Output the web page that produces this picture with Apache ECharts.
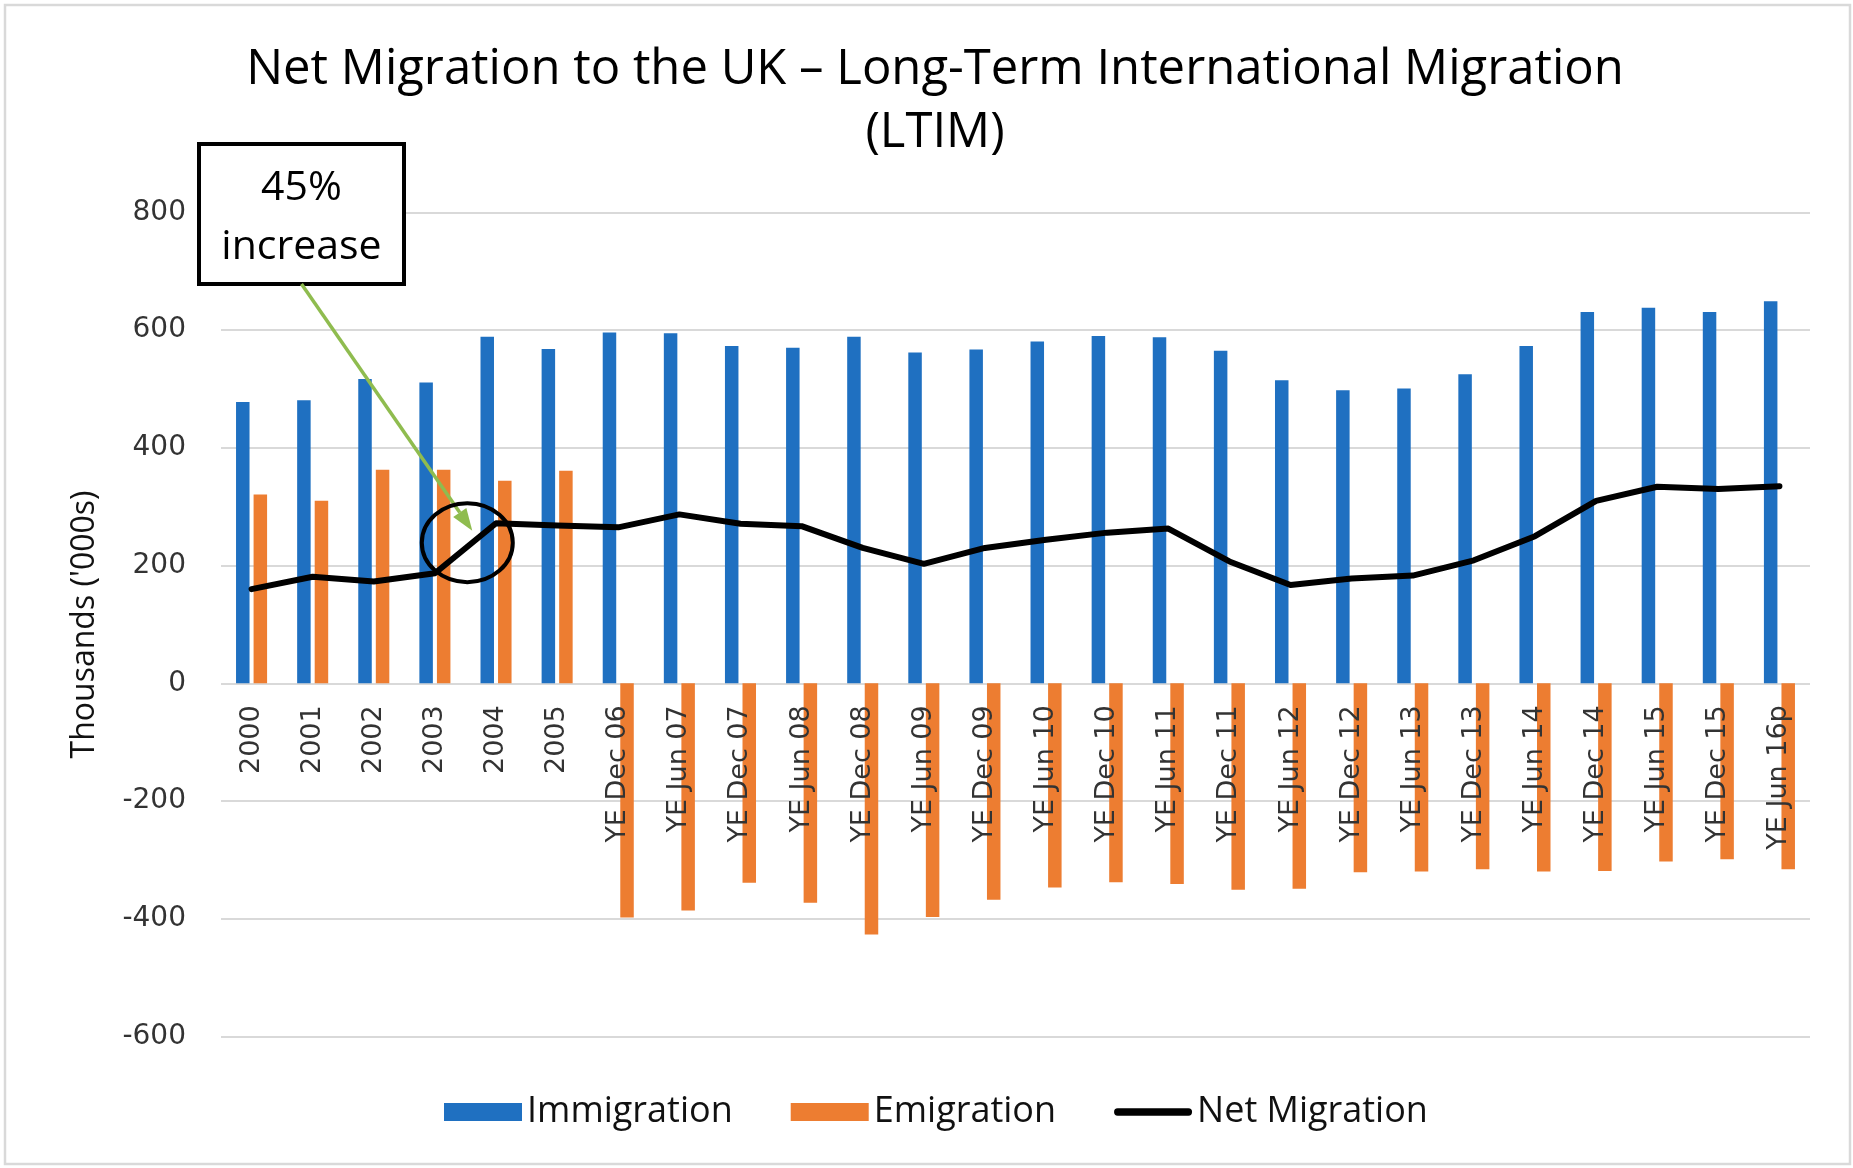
<!DOCTYPE html>
<html>
<head>
<meta charset="utf-8">
<script src="https://cdn.jsdelivr.net/npm/echarts@6/dist/echarts.min.js"></script>
<style>
  html, body { margin: 0; padding: 0; background: #ffffff; }
  #chart { width: 1853px; height: 1168px; }
</style>
</head>
<body>
<div id="chart"></div>
<script>
// Period labels (calendar years, then rolling year-ending periods)
const categories = [
  '2000', '2001', '2002', '2003', '2004', '2005',
  'YE Dec 06', 'YE Jun 07', 'YE Dec 07', 'YE Jun 08', 'YE Dec 08',
  'YE Jun 09', 'YE Dec 09', 'YE Jun 10', 'YE Dec 10', 'YE Jun 11',
  'YE Dec 11', 'YE Jun 12', 'YE Dec 12', 'YE Jun 13', 'YE Dec 13',
  'YE Jun 14', 'YE Dec 14', 'YE Jun 15', 'YE Dec 15', 'YE Jun 16p'
];

// Thousands of people
const immigration = [
  478, 481, 517, 511, 589, 568,
  596, 595, 573, 570, 589,
  562, 567, 581, 590, 588,
  565, 515, 498, 501, 525,
  573, 631, 638, 631, 649
];
const emigration = [
  321, 310, 363, 363, 344, 361,
  -398, -386, -339, -373, -427,
  -397, -368, -347, -338, -341,
  -351, -349, -321, -320, -316,
  -320, -319, -303, -299, -316
];
const netMigration = [
  160, 181, 173, 187, 272, 268,
  265, 287, 271, 267, 230,
  203, 230, 244, 256, 263,
  207, 167, 178, 183, 209,
  250, 310, 334, 330, 335
];

// Value axis range and tick step
const yMin = -600;
const yMax = 800;
const yStep = 200;

// Callout: the jump between 2003 and 2004
const calloutLines = ['45%', 'increase'];
const calloutFrom = 3;       // index of 2003
const calloutTo = 4;         // index of 2004
const calloutValue = 239;    // vertical centre of the ring, in thousands

const BLUE = '#1f70c1';
const ORANGE = '#ed7d31';
const GREEN = '#8fbc4f';
const GRID_GREY = '#d9d9d9';
const LABEL_GREY = '#333333';

const chart = echarts.init(document.getElementById('chart'), null, { renderer: 'canvas' });

chart.setOption({
  animation: false,
  backgroundColor: '#ffffff',
  title: {
    text: 'Net Migration to the UK \u2013 Long-Term International Migration\n(LTIM)',
    left: 930,
    top: 34,
    textAlign: 'center',
    textStyle: {
      fontFamily: 'Open Sans',
      fontSize: 49,
      fontWeight: 'normal',
      color: '#000000',
      lineHeight: 63
    }
  },
  legend: {
    left: 444,
    top: 1092,
    padding: 0,
    itemWidth: 78,
    itemHeight: 18,
    itemGap: 58,
    textStyle: {
      fontFamily: 'Open Sans',
      fontSize: 36,
      color: '#111111',
      lineHeight: 40
    },
    data: [
      { name: 'Immigration', icon: 'rect' },
      { name: 'Emigration', icon: 'rect' },
      {
        name: 'Net Migration',
        icon: 'path://M4,0L82,0A4,4,0,0,1,82,8L4,8A4,4,0,0,1,4,0Z',
        itemStyle: { color: '#000000', borderWidth: 0 }
      }
    ]
  },
  grid: {
    left: 221,
    right: 43,
    top: 212.5,
    bottom: 131.6,
    containLabel: false,
    outerBoundsMode: 'none'
  },
  xAxis: {
    type: 'category',
    data: categories,
    offset: 0,
    z: 10,
    axisLine: { show: false, onZero: false },
    axisTick: { show: false },
    axisLabel: {
      rotate: 90,
      margin: 22,
      interval: 0,
      fontFamily: 'DejaVu Sans',
      fontSize: 27,
      color: LABEL_GREY
    },
    splitLine: { show: false }
  },
  yAxis: {
    type: 'value',
    min: yMin,
    max: yMax,
    interval: yStep,
    name: "Thousands ('000s)",
    nameLocation: 'middle',
    nameGap: 120,
    nameRotate: 90,
    nameTextStyle: {
      fontFamily: 'Open Sans',
      fontSize: 32,
      color: '#111111'
    },
    axisLine: { show: false },
    axisTick: { show: false },
    axisLabel: {
      margin: 35,
      fontFamily: 'DejaVu Sans',
      fontSize: 28,
      color: LABEL_GREY
    },
    splitLine: { show: true, lineStyle: { color: GRID_GREY, width: 2 } }
  },
  series: [
    {
      name: 'Immigration',
      type: 'bar',
      data: immigration,
      barWidth: 13.5,
      barGap: '30%',
      itemStyle: { color: BLUE },
      z: 2
    },
    {
      name: 'Emigration',
      type: 'bar',
      data: emigration,
      barWidth: 13.5,
      barGap: '30%',
      itemStyle: { color: ORANGE },
      z: 2
    },
    {
      name: 'Net Migration',
      type: 'line',
      data: netMigration,
      symbol: 'none',
      color: '#000000',
      lineStyle: { color: '#000000', width: 6, join: 'round', cap: 'round' },
      z: 5
    }
  ]
});

// Category labels hang from the zero line rather than the bottom of the grid
(function moveLabelsToZero() {
  const zeroY = chart.convertToPixel({ yAxisIndex: 0 }, 0);
  const bottomY = chart.convertToPixel({ yAxisIndex: 0 }, yMin);
  chart.setOption({ xAxis: { offset: zeroY - bottomY } });
})();

// Callout box, ring and arrow placed relative to the 2003 -> 2004 step
function drawCallout() {
  const a = chart.convertToPixel({ gridIndex: 0 }, [calloutFrom, calloutValue]);
  const b = chart.convertToPixel({ gridIndex: 0 }, [calloutTo, calloutValue]);
  const cx = a[0] + (b[0] - a[0]) * 0.53;
  const cy = a[1];

  const box = { x: 199, y: 144, w: 205, h: 140 };
  const start = [box.x + box.w / 2, box.y + box.h];
  const tip = [cx + 5, cy - 12];
  const dx = tip[0] - start[0];
  const dy = tip[1] - start[1];
  const len = Math.sqrt(dx * dx + dy * dy);
  const ux = dx / len, uy = dy / len;
  const headLen = 22, headHalf = 8;
  const base = [tip[0] - ux * headLen, tip[1] - uy * headLen];
  const head = [
    tip,
    [base[0] - uy * headHalf, base[1] + ux * headHalf],
    [base[0] + uy * headHalf, base[1] - ux * headHalf]
  ];

  chart.setOption({
    graphic: [
      {
        type: 'rect',
        silent: true,
        shape: { x: 5, y: 5, width: 1845, height: 1159 },
        style: { fill: null, stroke: GRID_GREY, lineWidth: 2.5 },
        z: 0
      },
      {
        type: 'rect',
        silent: true,
        shape: { x: box.x, y: box.y, width: box.w, height: box.h },
        style: { fill: '#ffffff', stroke: '#000000', lineWidth: 4 },
        z: 100
      },
      {
        type: 'text',
        silent: true,
        x: box.x + box.w / 2,
        y: 188,
        style: {
          text: calloutLines[0],
          fontFamily: 'Open Sans',
          fontSize: 41,
          fill: '#000000',
          align: 'center',
          verticalAlign: 'middle'
        },
        z: 101
      },
      {
        type: 'text',
        silent: true,
        x: box.x + box.w / 2,
        y: 247,
        style: {
          text: calloutLines[1],
          fontFamily: 'Open Sans',
          fontSize: 41,
          fill: '#000000',
          align: 'center',
          verticalAlign: 'middle'
        },
        z: 101
      },
      {
        type: 'line',
        silent: true,
        shape: { x1: start[0], y1: start[1], x2: base[0], y2: base[1] },
        style: { stroke: GREEN, lineWidth: 3.5 },
        z: 100
      },
      {
        type: 'polygon',
        silent: true,
        shape: { points: head },
        style: { fill: GREEN },
        z: 100
      },
      {
        type: 'ellipse',
        silent: true,
        shape: { cx: cx, cy: cy, rx: 45.5, ry: 39.5 },
        style: { fill: null, stroke: '#000000', lineWidth: 4 },
        z: 100
      }
    ]
  });
}
drawCallout();
</script>
</body>
</html>
